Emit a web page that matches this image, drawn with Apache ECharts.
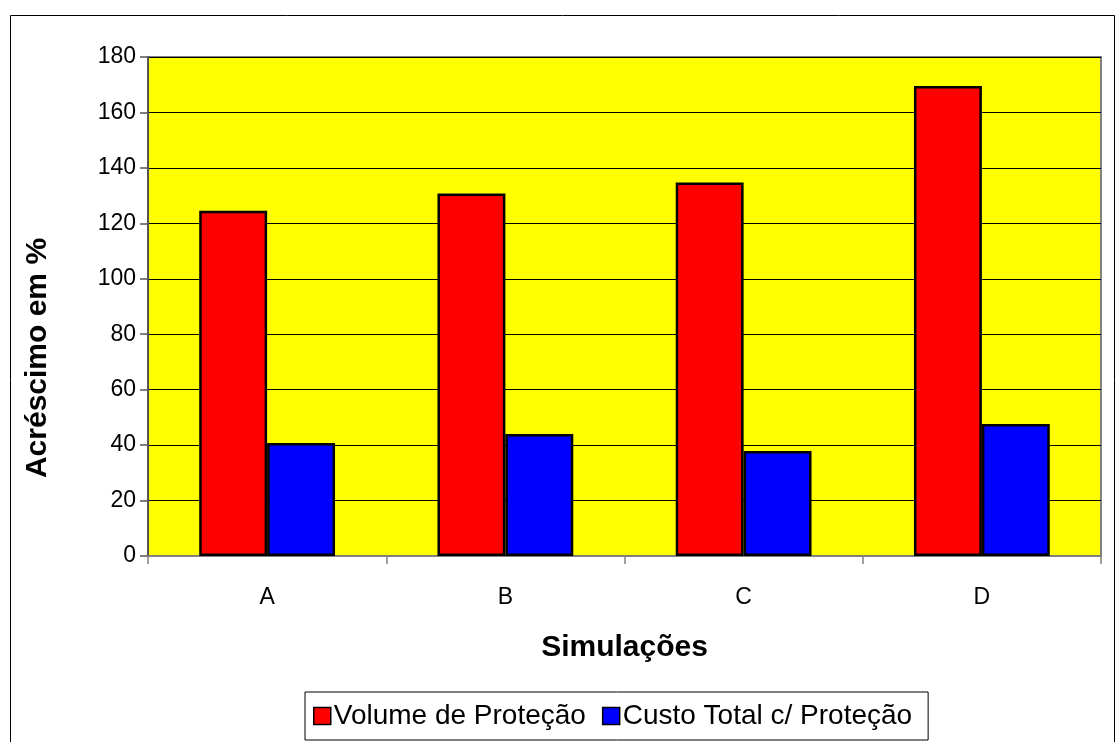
<!DOCTYPE html>
<html>
<head>
<meta charset="utf-8">
<title>Acréscimo em % por simulação</title>
<script src="https://cdn.jsdelivr.net/npm/echarts@6/dist/echarts.min.js"></script>
<style>
  html, body { margin: 0; padding: 0; background: #ffffff; }
  #chart { width: 1120px; height: 742px; }
</style>
</head>
<body>
<div id="chart"></div>
<script>
// Simulation scenarios and the percentage increase for each measure
const categories = ['A', 'B', 'C', 'D'];
const volumeProtecao = [124.5, 130.8, 134.7, 169.5];
const custoTotal = [40.8, 44.0, 37.9, 47.6];
const seriesNames = ['Volume de Proteção', 'Custo Total c/ Proteção'];
const yTicks = { min: 0, max: 180, interval: 20 };
const yTitle = 'Acréscimo em %';
const xTitle = 'Simulações';

const FONT = '"Liberation Sans", Arial, sans-serif';

const chart = echarts.init(document.getElementById('chart'), null, { renderer: 'canvas' });

chart.setOption({
  animation: false,
  backgroundColor: '#ffffff',
  textStyle: { fontFamily: FONT, color: '#000000' },
  graphic: [
    {
      // outer chart frame
      type: 'rect',
      left: 8, top: 13,
      shape: { width: 1104, height: 740 },
      style: { fill: 'none', stroke: '#000000', lineWidth: 1 },
      silent: true, z: -1
    },
    {
      // vertical axis title, centred on the chart area rather than the plot
      type: 'text',
      x: 38, y: 358,
      rotation: Math.PI / 2,
      style: {
        text: yTitle,
        fontFamily: FONT, fontSize: 30, fontWeight: 'bold',
        fill: '#000000', align: 'center', verticalAlign: 'middle'
      },
      silent: true
    }
  ],
  grid: {
    left: 148, top: 57, right: 19, bottom: 186,
    show: true,
    backgroundColor: '#ffff00',
    borderColor: '#808080',
    borderWidth: 2
  },
  legend: {
    data: seriesNames,
    left: 305, top: 692,
    orient: 'horizontal',
    icon: 'rect',
    itemWidth: 17, itemHeight: 17,
    itemGap: 16,
    padding: [10, 16, 10, 8],
    borderColor: '#000000',
    borderWidth: 1,
    backgroundColor: '#ffffff',
    itemStyle: { borderColor: '#000000', borderWidth: 1.5 },
    textStyle: { fontFamily: FONT, fontSize: 28, color: '#000000', padding: [0, 0, 0, -2] }
  },
  xAxis: {
    type: 'category',
    data: categories,
    boundaryGap: true,
    name: xTitle,
    nameLocation: 'middle',
    nameGap: 77,
    nameTextStyle: { fontFamily: FONT, fontSize: 30, fontWeight: 'bold', color: '#000000' },
    axisLine: { show: true, lineStyle: { color: '#808080', width: 2 } },
    axisTick: { show: true, alignWithLabel: false, interval: 0, length: 8, lineStyle: { color: '#808080', width: 1.5 } },
    axisLabel: { fontFamily: FONT, fontSize: 23, color: '#000000', margin: 30 },
    splitLine: { show: false }
  },
  yAxis: {
    type: 'value',
    min: yTicks.min, max: yTicks.max, interval: yTicks.interval,
    axisLine: { show: true, lineStyle: { color: '#555555', width: 2 } },
    axisTick: { show: true, length: 8, lineStyle: { color: '#555555', width: 1.5 } },
    axisLabel: { fontFamily: FONT, fontSize: 23, color: '#000000', margin: 12 },
    splitLine: { show: true, lineStyle: { color: '#000000', width: 1.2 } }
  },
  series: [
    {
      name: seriesNames[0],
      type: 'bar',
      data: volumeProtecao,
      barGap: '0%',
      barCategoryGap: '43%',
      itemStyle: { color: '#ff0000', borderColor: '#000000', borderWidth: 2.5 }
    },
    {
      name: seriesNames[1],
      type: 'bar',
      data: custoTotal,
      barGap: '0%',
      barCategoryGap: '43%',
      itemStyle: { color: '#0000ff', borderColor: '#000000', borderWidth: 2.5 }
    }
  ]
});
</script>
</body>
</html>
